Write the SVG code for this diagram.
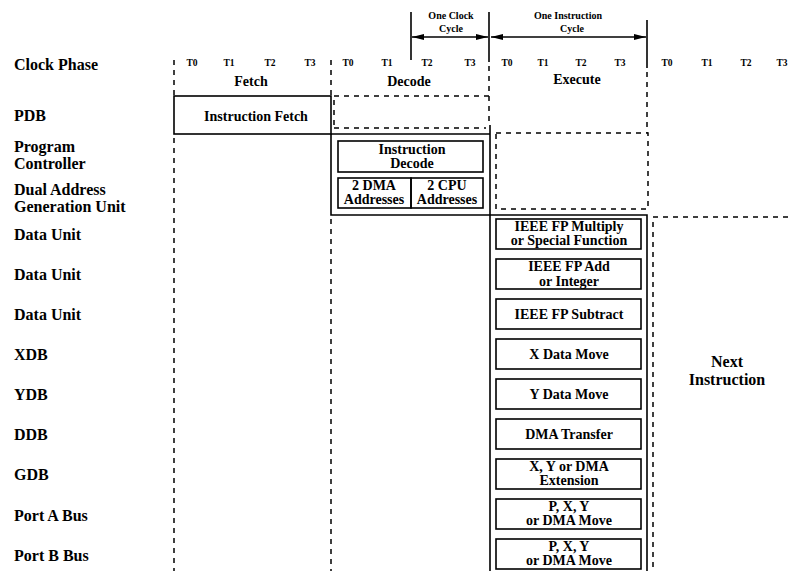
<svg xmlns="http://www.w3.org/2000/svg" width="789" height="571" viewBox="0 0 789 571">
<style>
.lbl{font-family:"Liberation Serif","Times New Roman",serif;font-weight:bold;font-size:16px;fill:#000}
.tt{font-family:"Liberation Serif","Times New Roman",serif;font-weight:bold;font-size:9.5px;fill:#000;text-anchor:middle}
.hd{font-family:"Liberation Serif","Times New Roman",serif;font-weight:bold;font-size:14px;fill:#000;text-anchor:middle}
.sm{font-family:"Liberation Serif","Times New Roman",serif;font-weight:bold;font-size:10px;fill:#000;text-anchor:middle}
.bx{font-family:"Liberation Serif","Times New Roman",serif;font-weight:bold;font-size:14px;fill:#000;text-anchor:middle}
.solid{fill:none;stroke:#000;stroke-width:1.6}
.thin{fill:none;stroke:#000;stroke-width:1.3}
.dash{fill:none;stroke:#000;stroke-width:1.5;stroke-dasharray:5 5}
</style>
<defs>
<marker id="ah" viewBox="0 0 12 6" refX="12" refY="3" markerWidth="12" markerHeight="6" markerUnits="userSpaceOnUse" orient="auto-start-reverse">
<path d="M0,0 L12,3 L0,6 z" fill="#000"/>
</marker>
</defs>

<g id="row-labels">
<text class="lbl" x="14" y="70">Clock Phase</text>
<text class="lbl" x="14" y="121">PDB</text>
<text class="lbl" x="14" y="152">Program</text>
<text class="lbl" x="14" y="169">Controller</text>
<text class="lbl" x="14" y="195">Dual Address</text>
<text class="lbl" x="14" y="212">Generation Unit</text>
<text class="lbl" x="14" y="240">Data Unit</text>
<text class="lbl" x="14" y="280">Data Unit</text>
<text class="lbl" x="14" y="320">Data Unit</text>
<text class="lbl" x="14" y="360">XDB</text>
<text class="lbl" x="14" y="400">YDB</text>
<text class="lbl" x="14" y="440">DDB</text>
<text class="lbl" x="14" y="480">GDB</text>
<text class="lbl" x="14" y="521">Port A Bus</text>
<text class="lbl" x="14" y="561">Port B Bus</text>
</g>

<g id="clock-phases">
<text class="tt" x="192" y="66">T0</text>
<text class="tt" x="229" y="66">T1</text>
<text class="tt" x="270" y="66">T2</text>
<text class="tt" x="310" y="66">T3</text>
<text class="tt" x="348" y="66">T0</text>
<text class="tt" x="387" y="66">T1</text>
<text class="tt" x="427" y="66">T2</text>
<text class="tt" x="470" y="66">T3</text>
<text class="tt" x="507" y="66">T0</text>
<text class="tt" x="543" y="66">T1</text>
<text class="tt" x="581" y="66">T2</text>
<text class="tt" x="620" y="66">T3</text>
<text class="tt" x="667" y="66">T0</text>
<text class="tt" x="707" y="66">T1</text>
<text class="tt" x="746" y="66">T2</text>
<text class="tt" x="782" y="66">T3</text>
<text class="hd" x="251" y="86">Fetch</text>
<text class="hd" x="409" y="86">Decode</text>
<text class="hd" x="577" y="84">Execute</text>
</g>

<g id="cycle-markers">
<text class="sm" x="451" y="19">One Clock</text>
<text class="sm" x="451" y="32">Cycle</text>
<text class="sm" x="568" y="19">One Instruction</text>
<text class="sm" x="572" y="32">Cycle</text>
<line class="solid" x1="411" y1="12" x2="411" y2="60"/>
<line class="solid" x1="489" y1="12" x2="489" y2="62"/>
<line class="solid" x1="647" y1="20" x2="647" y2="68"/>
</g>

<g id="connectors">
<line class="thin" x1="412" y1="37" x2="488" y2="37" marker-start="url(#ah)" marker-end="url(#ah)"/>
<line class="thin" x1="491" y1="37" x2="646" y2="37" marker-start="url(#ah)" marker-end="url(#ah)"/>
</g>

<g id="grid-lines">
<line class="dash" x1="174" y1="60" x2="174" y2="96"/>
<line class="dash" x1="174" y1="138" x2="174" y2="571"/>
<line class="dash" x1="331" y1="60" x2="331" y2="96"/>
<line class="dash" x1="331" y1="219" x2="331" y2="571"/>
<line class="dash" x1="489" y1="66" x2="489" y2="125"/>
<line class="dash" x1="647" y1="72" x2="647" y2="133"/>
<line class="dash" x1="653" y1="217" x2="789" y2="217"/>
<line class="dash" x1="653" y1="222" x2="653" y2="571"/>
</g>

<g id="fetch">
<rect class="solid" x="174" y="96" width="157" height="38"/>
<text class="bx" x="256" y="121">Instruction Fetch</text>
</g>

<g id="decode-pdb">
<path class="dash" d="M334,96 H489 M334,128 H486 M334,100 V126"/>
</g>

<g id="decode">
<path class="solid" d="M331,134 V215 H490 M331,134 H490 M490,125 V571"/>
<rect class="solid" x="338" y="141" width="145" height="31"/>
<text class="bx" x="412" y="154">Instruction</text>
<text class="bx" x="412" y="168">Decode</text>
<rect class="solid" x="338" y="178" width="73" height="30"/>
<text class="bx" x="374" y="190">2 DMA</text>
<text class="bx" x="374" y="204">Addresses</text>
<rect class="solid" x="411" y="178" width="72" height="30"/>
<text class="bx" x="447" y="190">2 CPU</text>
<text class="bx" x="447" y="204">Addresses</text>
</g>

<g id="execute-pdb">
<rect class="dash" x="496" y="133" width="152" height="76"/>
</g>

<g id="execute">
<path class="solid" d="M490,215 H647 V571"/>
<g id="ex-mul">
<rect class="solid" x="496" y="219" width="145" height="30"/>
<text class="bx" x="569" y="231">IEEE  FP Multiply</text>
<text class="bx" x="569" y="245">or Special Function</text>
</g>
<g id="ex-add">
<rect class="solid" x="496" y="259" width="145" height="30"/>
<text class="bx" x="569" y="271">IEEE  FP Add</text>
<text class="bx" x="569" y="286">or Integer</text>
</g>
<g id="ex-sub">
<rect class="solid" x="496" y="299" width="145" height="30"/>
<text class="bx" x="569" y="319">IEEE FP Subtract</text>
</g>
<g id="ex-xdb">
<rect class="solid" x="496" y="339" width="145" height="30"/>
<text class="bx" x="569" y="359">X Data Move</text>
</g>
<g id="ex-ydb">
<rect class="solid" x="496" y="379" width="145" height="30"/>
<text class="bx" x="569" y="399">Y Data Move</text>
</g>
<g id="ex-ddb">
<rect class="solid" x="496" y="419" width="145" height="30"/>
<text class="bx" x="569" y="439">DMA Transfer</text>
</g>
<g id="ex-gdb">
<rect class="solid" x="496" y="459" width="145" height="30"/>
<text class="bx" x="569" y="471">X, Y or DMA</text>
<text class="bx" x="569" y="485">Extension</text>
</g>
<g id="ex-porta">
<rect class="solid" x="496" y="499" width="145" height="30"/>
<text class="bx" x="569" y="511">P, X, Y</text>
<text class="bx" x="569" y="525">or DMA Move</text>
</g>
<g id="ex-portb">
<rect class="solid" x="496" y="539" width="145" height="30"/>
<text class="bx" x="569" y="551">P, X, Y</text>
<text class="bx" x="569" y="565">or DMA Move</text>
</g>
</g>

<g id="next">
<text class="lbl" x="727" y="367" text-anchor="middle">Next</text>
<text class="lbl" x="727" y="385" text-anchor="middle">Instruction</text>
</g>
</svg>
